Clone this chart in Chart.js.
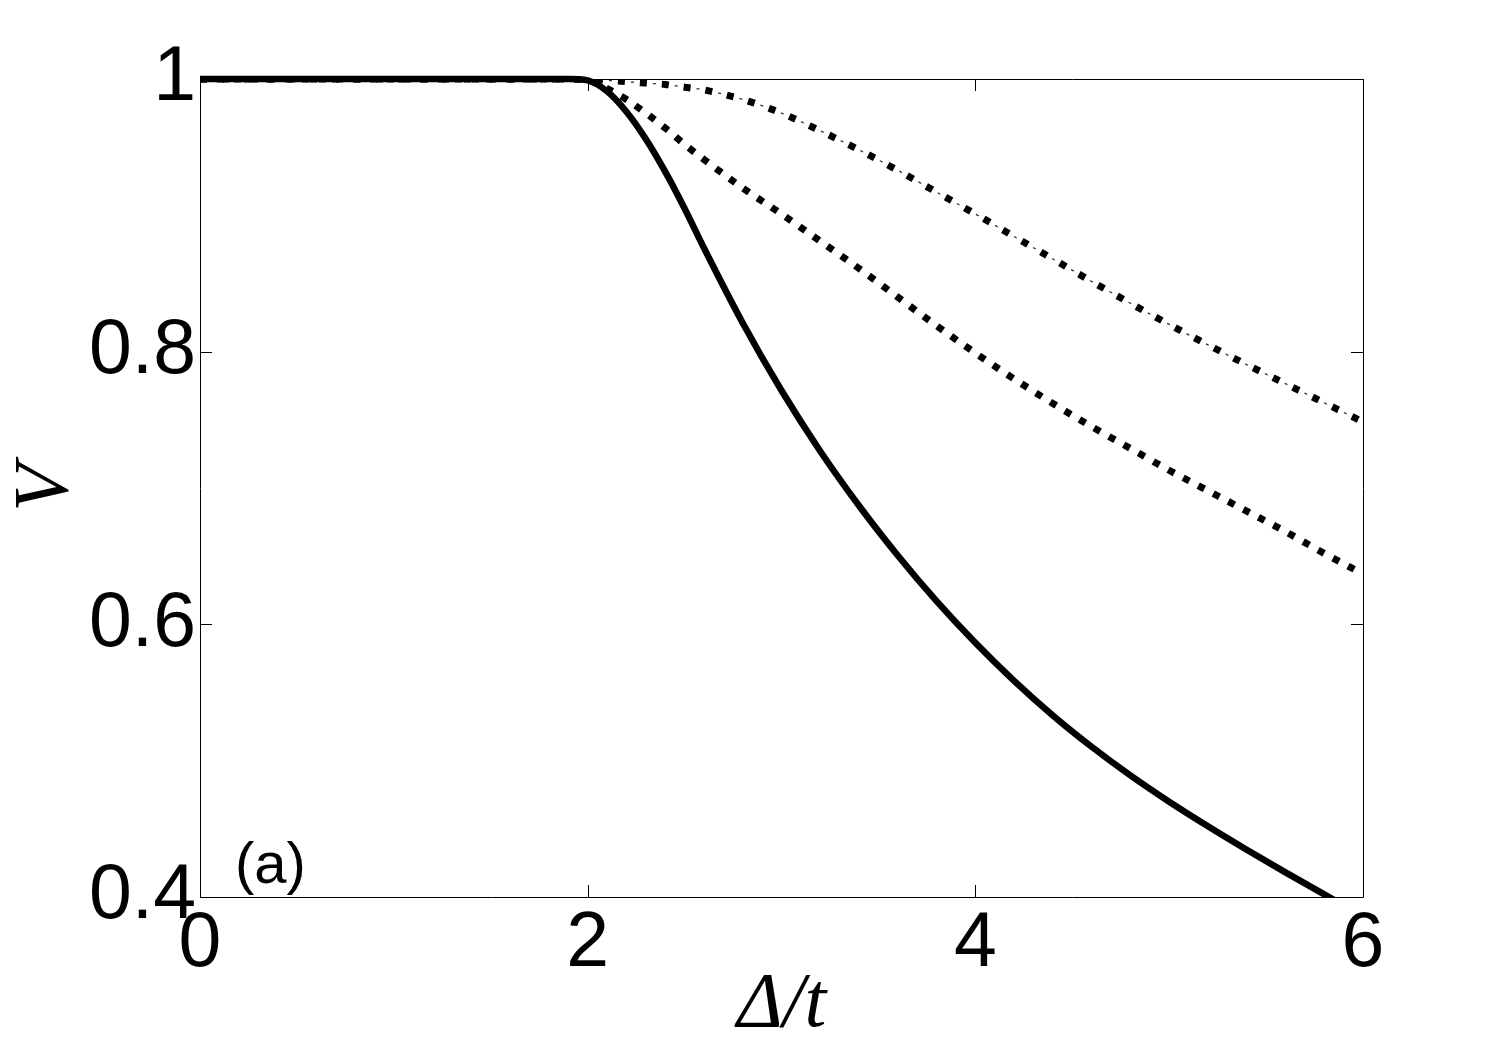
<!DOCTYPE html>
<html>
<head>
<meta charset="utf-8">
<script src="https://cdn.jsdelivr.net/npm/chart.js@4.4.1/dist/chart.umd.min.js"></script>
<style>
  html, body { margin: 0; padding: 0; background: #fff; }
  #wrap { width: 1506px; height: 1054px; }
</style>
</head>
<body>
<div id="wrap"><canvas id="vChart"></canvas></div>
<script>
// values
const deltaT = [0, 0.5, 1, 1.5, 1.9, 2.0, 2.1, 2.2, 2.3, 2.4, 2.5, 2.6, 2.8, 3.0, 3.2, 3.4, 3.6, 3.8, 4.0, 4.2, 4.4, 4.6, 4.8, 5.0, 5.2, 5.4, 5.6, 5.8, 6.0];
const solidV = [1, 1, 1, 1, 1, 0.999, 0.991, 0.976, 0.956, 0.932, 0.905, 0.876, 0.821, 0.7715, 0.727, 0.687, 0.6505, 0.617, 0.5865, 0.5586, 0.5332, 0.5102, 0.4892, 0.4699, 0.4519, 0.4347, 0.4181, 0.4019, 0.3859];
const dottedV = [1, 1, 1, 1, 1, 0.999, 0.993, 0.985, 0.975, 0.964, 0.952, 0.941, 0.920, 0.901, 0.881, 0.861, 0.840, 0.819, 0.799, 0.780, 0.762, 0.745, 0.729, 0.713, 0.698, 0.683, 0.668, 0.652, 0.637];
const dashDotV = [1, 1, 1, 1, 1, 1.0, 0.999, 0.998, 0.997, 0.996, 0.994, 0.992, 0.985, 0.975, 0.962, 0.948, 0.933, 0.917, 0.901, 0.8845, 0.868, 0.8515, 0.8355, 0.820, 0.805, 0.7905, 0.7765, 0.7625, 0.7485];

const xTicks = [0, 2, 4, 6];
const xTickLabels = ["0", "2", "4", "6"];
const yTicks = [0.4, 0.6, 0.8, 1];
const yTickLabels = ["0.4", "0.6", "0.8", "1"];
const panelLabel = "(a)";

const toPoints = (vals) => deltaT.map((x, i) => ({ x: x, y: vals[i] }));

// frame with inward ticks on all four sides, plus the panel label
const frameTicks = {
  id: "frameTicks",
  beforeDatasetsDraw(chart) {
    const { ctx, chartArea: a, scales } = chart;
    const tl = 12;
    ctx.save();
    ctx.strokeStyle = "#000";
    ctx.lineWidth = 1;
    ctx.beginPath();
    ctx.rect(a.left + 0.5, a.top + 0.5, a.right - a.left, a.bottom - a.top);
    xTicks.forEach((v) => {
      const px = Math.round(scales.x.getPixelForValue(v)) + 0.5;
      ctx.moveTo(px, a.bottom); ctx.lineTo(px, a.bottom - tl);
      ctx.moveTo(px, a.top); ctx.lineTo(px, a.top + tl);
    });
    yTicks.forEach((v) => {
      const py = Math.round(scales.y.getPixelForValue(v)) + 0.5;
      ctx.moveTo(a.left, py); ctx.lineTo(a.left + tl, py);
      ctx.moveTo(a.right, py); ctx.lineTo(a.right - tl, py);
    });
    ctx.stroke();
    ctx.restore();
  },
  afterDraw(chart) {
    const { ctx, chartArea: a } = chart;
    ctx.save();
    ctx.fillStyle = "#000";
    ctx.font = '58px "Liberation Sans", Arial, sans-serif';
    ctx.textBaseline = "alphabetic";
    ctx.fillText(panelLabel, a.left + 35, a.bottom - 14);
    ctx.restore();
  },
};

const tickFont = { family: '"Liberation Sans", Arial, sans-serif', size: 77 };
const titleFont = { family: '"Liberation Serif", "Times New Roman", serif', size: 78, style: "italic" };

new Chart(document.getElementById("vChart"), {
  type: "line",
  data: {
    datasets: [
      {
        data: toPoints(solidV),
        borderColor: "#000",
        borderWidth: 6.5,
        cubicInterpolationMode: "monotone",
        pointRadius: 0,
        clip: { left: 0, top: 5, right: 0, bottom: 0 },
      },
      {
        data: toPoints(dottedV),
        borderColor: "#000",
        borderWidth: 7,
        borderDash: [7, 10],
        borderCapStyle: "butt",
        cubicInterpolationMode: "monotone",
        pointRadius: 0,
      },
      {
        data: toPoints(dashDotV),
        borderColor: "#000",
        borderWidth: 7,
        borderDash: [7, 15],
        borderCapStyle: "butt",
        cubicInterpolationMode: "monotone",
        pointRadius: 0,
      },
      {
        data: toPoints(dashDotV),
        borderColor: "#333",
        borderWidth: 1.3,
        borderDash: [3, 19],
        borderDashOffset: 9,
        cubicInterpolationMode: "monotone",
        pointRadius: 0,
      },
    ],
  },
  options: {
    responsive: true,
    maintainAspectRatio: false,
    animation: false,
    layout: { padding: { left: 0, right: 143, top: 79, bottom: 0 } },
    plugins: { legend: { display: false }, tooltip: { enabled: false } },
    scales: {
      x: {
        type: "linear",
        min: 0,
        max: 6,
        grid: { display: false, drawTicks: false },
        border: { display: false },
        afterBuildTicks: (scale) => { scale.ticks = xTicks.map((v) => ({ value: v })); },
        afterFit: (scale) => { scale.height = 157; },
        ticks: {
          color: "#000",
          font: tickFont,
          padding: 2,
          maxRotation: 0,
          autoSkip: false,
          callback: (v, i) => xTickLabels[i],
        },
        title: { display: true, text: "Δ/t", color: "#000", font: titleFont, padding: { top: 0, bottom: 2 } },
      },
      y: {
        type: "linear",
        min: 0.4,
        max: 1,
        grid: { display: false, drawTicks: false },
        border: { display: false },
        afterBuildTicks: (scale) => { scale.ticks = yTicks.map((v) => ({ value: v })); },
        afterFit: (scale) => { scale.width = 200; },
        ticks: {
          color: "#000",
          font: tickFont,
          padding: 4,
          autoSkip: false,
          callback: (v, i) => yTickLabels[i],
        },
        title: { display: true, text: "V", color: "#000", font: titleFont, padding: { top: 0, bottom: 0 } },
      },
    },
  },
  plugins: [frameTicks],
});
</script>
</body>
</html>
